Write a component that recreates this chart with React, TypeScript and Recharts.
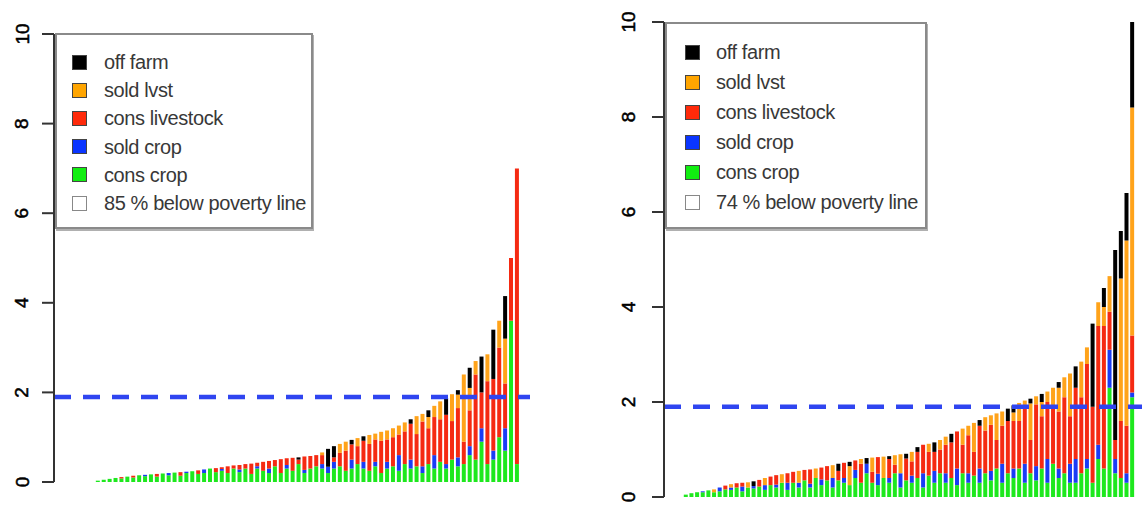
import { BarChart, Bar, XAxis, YAxis, ReferenceLine, Legend } from "recharts";

// household income by source, sorted by total (left panel)
const leftConsCrop = [
  0.03, 0.05, 0.07, 0.09, 0.08, 0.12, 0.1, 0.15, 0.13, 0.17,
  0.12, 0.19, 0.15, 0.21, 0.14, 0.2, 0.24, 0.18, 0.2, 0.3,
  0.22, 0.25, 0.2, 0.3, 0.22, 0.3, 0.18, 0.3, 0.25, 0.2,
  0.35, 0.2, 0.3, 0.25, 0.4, 0.2, 0.3, 0.35, 0.3, 0.2,
  0.3, 0.35, 0.25, 0.3, 0.4, 0.3, 0.25, 0.35, 0.2, 0.3,
  0.35, 0.25, 0.4, 0.3, 0.35, 0.2, 0.4, 0.3, 0.45, 0.3,
  0.5, 0.35, 0.4, 0.6, 0.5, 0.9, 0.4, 0.5, 1.0, 0.7,
  3.6, 0.4,
];
const leftSoldCrop = [
  0, 0, 0, 0, 0, 0, 0, 0, 0.03, 0,
  0, 0, 0.05, 0, 0, 0.03, 0, 0, 0.08, 0,
  0, 0.04, 0, 0, 0.06, 0, 0, 0.05, 0, 0.1,
  0, 0, 0.08, 0, 0, 0.07, 0, 0, 0.1, 0.14,
  0.15, 0, 0, 0.2, 0, 0.15, 0, 0.1, 0, 0.15,
  0, 0.35, 0, 0.2, 0, 0.15, 0, 0.3, 0, 0.1,
  0, 0.2, 0, 0.2, 0, 0.3, 0, 0.2, 0, 0.5,
  0, 0,
];
const leftConsLivestock = [
  0, 0, 0, 0, 0.03, 0, 0.04, 0, 0, 0,
  0.06, 0, 0, 0, 0.08, 0, 0, 0.08, 0, 0,
  0.09, 0.04, 0.15, 0.07, 0.1, 0.1, 0.23, 0.08, 0.2, 0.17,
  0.14, 0.31, 0.15, 0.29, 0.1, 0.3, 0.28, 0.25, 0.2, 0,
  0.1, 0.3, 0.45, 0.34, 0.4, 0.47, 0.6, 0.5, 0.72, 0.5,
  0.65, 0.46, 0.73, 0.8, 0.72, 1.0, 0.8, 0.85, 0.95, 1.1,
  0.86, 1.1, 0.5, 0.8, 1.9, 0.8, 1.85, 1.6, 2.0, 1.0,
  1.4, 6.6,
];
const leftSoldLvst = [
  0, 0, 0, 0, 0, 0, 0, 0, 0, 0,
  0, 0, 0, 0, 0, 0, 0, 0, 0, 0,
  0, 0, 0, 0, 0, 0, 0, 0, 0, 0,
  0, 0, 0, 0, 0, 0, 0, 0, 0.06, 0,
  0, 0.2, 0.2, 0, 0.18, 0, 0.2, 0.13, 0.2, 0.2,
  0.2, 0.2, 0.2, 0, 0.4, 0.17, 0.25, 0.25, 0.4, 0,
  0.6, 0.3, 1.5, 0.5, 0.3, 0, 0.6, 0, 0.6, 1.0,
  0, 0,
];
const leftOffFarm = [
  0, 0, 0, 0, 0, 0, 0, 0, 0, 0,
  0, 0, 0, 0, 0, 0, 0, 0, 0, 0,
  0, 0, 0, 0, 0, 0, 0, 0, 0, 0,
  0, 0, 0, 0, 0.05, 0, 0, 0, 0, 0.4,
  0.25, 0, 0, 0.1, 0, 0.1, 0, 0, 0, 0,
  0, 0, 0, 0.1, 0, 0, 0.15, 0, 0, 0.38,
  0, 0.1, 0, 0.45, 0, 0.8, 0, 1.1, 0, 0.95,
  0, 0,
];

// right panel
const rightConsCrop = [
  0.05, 0.08, 0.1, 0.1, 0.14, 0.1, 0.12, 0.16, 0.15, 0.2,
  0.12, 0.2, 0.18, 0.22, 0.15, 0.25, 0.2, 0.3, 0.15, 0.3,
  0.2, 0.35, 0.2, 0.4, 0.25, 0.35, 0.2, 0.35, 0.3, 0.25,
  0.4, 0.3, 0.5, 0.3, 0.25, 0.4, 0.3, 0.5, 0.2, 0.35,
  0.3, 0.4, 0.2, 0.45, 0.3, 0.5, 0.3, 0.4, 0.25, 0.5,
  0.3, 0.45, 0.3, 0.5, 0.35, 0.6, 0.3, 0.5, 0.4, 0.6,
  0.3, 0.5, 0.35, 0.6, 0.3, 0.7, 0.4, 0.5, 0.3, 0.3,
  0.5, 0.6, 0.3, 0.8, 0.6, 2.3, 0.5, 0.4, 0.3, 2.1,
];
const rightSoldCrop = [
  0, 0, 0, 0.02, 0, 0, 0.08, 0, 0.05, 0,
  0.1, 0, 0.05, 0, 0.1, 0, 0.06, 0, 0.15, 0,
  0.1, 0, 0.08, 0, 0.12, 0, 0.2, 0, 0.1, 0,
  0.17, 0, 0.2, 0, 0.24, 0, 0.1, 0, 0.3, 0,
  0.15, 0, 0.3, 0, 0.25, 0, 0.2, 0, 0.35, 0,
  0.2, 0, 0.3, 0, 0.2, 0, 0.4, 0, 0.2, 0,
  0.4, 0, 0.3, 0, 0.5, 0, 0.2, 0, 0.4, 0.5,
  0, 0.2, 0, 0.3, 0, 0.8, 0.3, 0, 0.2, 0.1,
];
const rightConsLivestock = [
  0, 0, 0, 0, 0, 0, 0, 0.08, 0, 0.09,
  0.08, 0, 0, 0.14, 0, 0.18, 0.2, 0, 0.2, 0.23,
  0, 0.22, 0.3, 0, 0.25, 0.3, 0, 0.2, 0.32, 0,
  0.2, 0.4, 0, 0.23, 0.35, 0, 0.4, 0.18, 0, 0.46,
  0.3, 0.55, 0.6, 0.5, 0.4, 0.5, 0.6, 0.75, 0.78, 0.6,
  0.8, 0.5, 0.9, 0.9, 0.97, 0.6, 0.8, 1.1, 1.0, 1.0,
  1.2, 0.7, 1.3, 1.1, 1.2, 1.2, 1.2, 1.6, 1.0, 1.5,
  1.6, 2.0, 1.6, 2.5, 3.0, 0.8, 0.4, 1.2, 1.0, 1.2,
];
const rightSoldLvst = [
  0, 0, 0, 0, 0, 0.06, 0, 0, 0.07, 0,
  0, 0.11, 0, 0, 0.15, 0, 0, 0.18, 0, 0,
  0.25, 0, 0, 0.2, 0, 0, 0.27, 0, 0, 0.4,
  0, 0.1, 0, 0.3, 0, 0.45, 0, 0.2, 0.4, 0,
  0.2, 0, 0, 0.17, 0, 0.2, 0.17, 0, 0, 0.34,
  0.2, 0.61, 0, 0.28, 0.2, 0.56, 0.3, 0, 0.18, 0.38,
  0.13, 0.77, 0.17, 0.3, 0.22, 0.4, 0.5, 0.42, 0.9, 0,
  0.75, 0.35, 0, 0.5, 0.4, 0.75, 0, 3.0, 3.9, 4.8,
];
const rightOffFarm = [
  0, 0, 0, 0, 0, 0, 0, 0, 0, 0,
  0, 0, 0.1, 0, 0, 0, 0, 0, 0, 0,
  0, 0, 0, 0, 0, 0, 0, 0.15, 0, 0.09,
  0, 0, 0.12, 0, 0, 0, 0.06, 0, 0, 0.1,
  0, 0.1, 0, 0, 0.2, 0, 0, 0.18, 0, 0,
  0, 0, 0.12, 0, 0, 0, 0, 0.26, 0.15, 0,
  0, 0.1, 0, 0.17, 0, 0, 0.12, 0, 0, 0.45,
  0, 0, 1.75, 0, 0.4, 0, 4.0, 1.0, 1.0, 1.9,
];

const yTicks = [0, 2, 4, 6, 8, 10];
const povertyLine = 1.9;
const legendLabels = ["off farm", "sold lvst", "cons livestock", "sold crop", "cons crop"];
const legendColors = ["#000000", "#ffa500", "#ff2a0a", "#0a35ff", "#11ee11"];
const leftNote = "85 % below poverty line";
const rightNote = "74 % below poverty line";

// stacked bottom -> top
const stackKeys = ["consCrop", "soldCrop", "consLivestock", "soldLvst", "offFarm"];
const stackColors = ["#1ee81e", "#1a3cf5", "#f52a12", "#ffa31a", "#000000"];

function buildRows(g: number[], b: number[], r: number[], o: number[], k: number[]) {
  return g.map((_, i) => ({
    hh: i + 1,
    consCrop: g[i],
    soldCrop: b[i],
    consLivestock: r[i],
    soldLvst: o[i],
    offFarm: k[i],
  }));
}

const leftRows = buildRows(leftConsCrop, leftSoldCrop, leftConsLivestock, leftSoldLvst, leftOffFarm);
const rightRows = buildRows(rightConsCrop, rightSoldCrop, rightConsLivestock, rightSoldLvst, rightOffFarm);

const FONT = "'Liberation Sans', Arial, Helvetica, sans-serif";

function RotTick(props: any) {
  const { x, y, payload, shift } = props;
  const cx = x - shift;
  return (
    <text
      x={cx}
      y={y}
      transform={`rotate(-90, ${cx}, ${y})`}
      textAnchor="middle"
      dominantBaseline="central"
      fontSize={19}
      fontFamily={FONT}
      fill="#000"
      stroke="#000"
      strokeWidth={0.5}
    >
      {payload.value}
    </text>
  );
}

function LegendBox({ note, firstRow, rowStep, boxX, textX }: any) {
  const labels = [...legendLabels, note];
  return (
    <div
      style={{
        position: "relative",
        width: "100%",
        height: "100%",
        boxSizing: "border-box",
        border: "2px solid #8a8a8a",
        boxShadow: "1px 2px 0 #b0b0b0",
        background: "#fff",
        fontFamily: FONT,
      }}
    >
      {labels.map((label, i) => (
        <div key={label} style={{ position: "absolute", left: 0, top: firstRow + i * rowStep - 2 }}>
          <div
            style={{
              position: "absolute",
              left: boxX,
              top: -7.5,
              width: 15,
              height: 15,
              boxSizing: "border-box",
              background: i < 5 ? legendColors[i] : "#fff",
              border: `1.5px solid ${i < 5 ? "#444" : "#888"}`,
            }}
          />
          <span
            style={{
              position: "absolute",
              left: textX,
              top: -12,
              fontSize: 20,
              lineHeight: "24px",
              color: "#383838",
              whiteSpace: "nowrap",
              letterSpacing: -0.4,
            }}
          >
            {label}
          </span>
        </div>
      ))}
    </div>
  );
}

function Panel({ rows, left, width, margin, padding, tickShift, legendPos, note, firstRow, rowStep, boxX, textX }: any) {
  return (
    <div style={{ position: "absolute", left, top: 0 }}>
      <BarChart width={width} height={508} data={rows} margin={margin} barCategoryGap="14%" barGap={0}>
        <XAxis dataKey="hh" hide padding={padding} />
        <YAxis
          domain={[0, 10]}
          ticks={yTicks}
          interval={0}
          allowDataOverflow
          width={54}
          tickSize={12}
          axisLine={{ stroke: "#333", strokeWidth: 2 }}
          tickLine={{ stroke: "#333", strokeWidth: 2 }}
          tick={(p: any) => <RotTick {...p} shift={tickShift} />}
        />
        <Legend
          layout="horizontal"
          verticalAlign="middle"
          align="center"
          wrapperStyle={legendPos}
          content={() => (
            <LegendBox note={note} firstRow={firstRow} rowStep={rowStep} boxX={boxX} textX={textX} />
          )}
        />
        {stackKeys.map((key, i) => (
          <Bar key={key} dataKey={key} stackId="inc" fill={stackColors[i]} isAnimationActive={false} />
        ))}
        <ReferenceLine y={povertyLine} stroke="#2f45f0" strokeWidth={4.5} strokeDasharray="17 12" />
      </BarChart>
    </div>
  );
}

export default function App() {
  return (
    <div
      style={{
        position: "absolute",
        left: 0,
        top: 0,
        width: 1142,
        height: 508,
        overflow: "hidden",
        background: "#fff",
      }}
    >
      <Panel
        rows={leftRows}
        left={0}
        width={540}
        margin={{ top: 34, right: 10, bottom: 26, left: 0 }}
        padding={{ left: 41, right: 10 }}
        tickShift={18}
        legendPos={{ left: 55, top: 33, width: 258, height: 196 }}
        note={leftNote}
        firstRow={29}
        rowStep={28.2}
        boxX={15}
        textX={47}
      />
      <Panel
        rows={rightRows}
        left={610}
        width={542}
        margin={{ top: 22, right: 0, bottom: 11, left: 0 }}
        padding={{ left: 19, right: 17 }}
        tickShift={22}
        legendPos={{ left: 55, top: 22, width: 262, height: 207 }}
        note={rightNote}
        firstRow={30}
        rowStep={30}
        boxX={18}
        textX={49}
      />
    </div>
  );
}
